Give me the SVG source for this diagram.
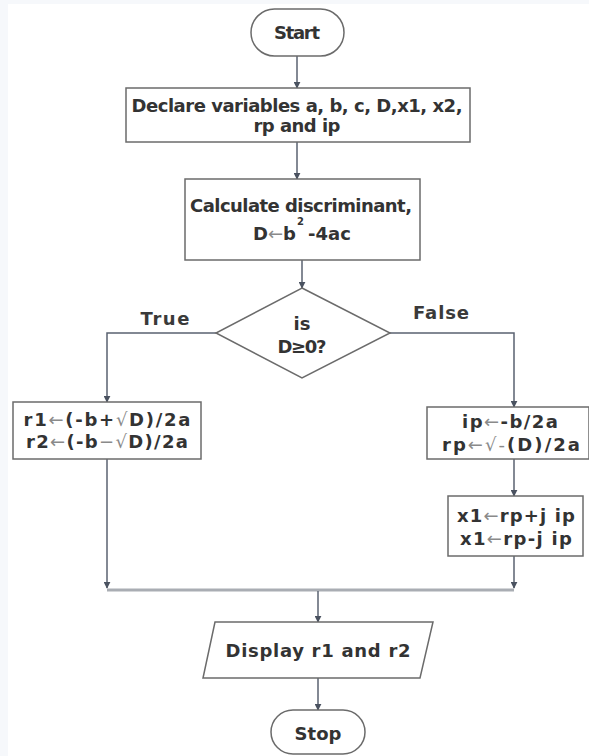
<svg xmlns="http://www.w3.org/2000/svg" width="589" height="756" viewBox="0 0 589 756">
<style>
.bg{fill:#f6f8fb}
.canvas{fill:#ffffff}
.box{fill:#ffffff;stroke:#6b6b6b;stroke-width:1.5}
.t{font-family:"DejaVu Sans",Verdana,sans-serif;font-weight:bold;font-size:18px;fill:#333333}
.lab{font-family:"DejaVu Sans",Verdana,sans-serif;font-weight:bold;font-size:18px;fill:#3a3a3a}
.ar{font-weight:normal;fill:#8a8a8a}
.conn{fill:none;stroke:#5a6270;stroke-width:1.5}
.merge{fill:none;stroke:#a9adb3;stroke-width:3}
</style>
<defs>
<marker id="ah" viewBox="0 0 10 10" refX="9" refY="5" markerWidth="7" markerHeight="7" markerUnits="userSpaceOnUse" orient="auto">
<path d="M0,0 L10,5 L0,10 z" fill="#4a5260"/>
</marker>
</defs>
<rect class="bg" x="0" y="0" width="589" height="756"/>
<rect class="canvas" x="8" y="4" width="581" height="752"/>

<g id="connectors">
<path class="conn" d="M297,56 L297,88" marker-end="url(#ah)"/>
<path class="conn" d="M297,142 L297,179" marker-end="url(#ah)"/>
<path class="conn" d="M302,260 L302,288" marker-end="url(#ah)"/>
<path class="conn" d="M216,333 L107,333 L107,402" marker-end="url(#ah)"/>
<path class="conn" d="M390,333 L514,333 L514,407" marker-end="url(#ah)"/>
<path class="conn" d="M514,459 L514,496" marker-end="url(#ah)"/>
<path class="conn" d="M107,459 L107,588" marker-end="url(#ah)"/>
<path class="conn" d="M514,556 L514,588" marker-end="url(#ah)"/>
<path class="merge" d="M107,590 L514,590"/>
<path class="conn" d="M318,591 L318,622" marker-end="url(#ah)"/>
<path class="conn" d="M318,678 L318,710" marker-end="url(#ah)"/>
<text class="lab" x="165" y="325" text-anchor="middle" textLength="49">True</text>
<text class="lab" x="441" y="319" text-anchor="middle" textLength="56">False</text>
</g>

<g id="start">
<rect class="box" x="251" y="9" width="93" height="47" rx="23.5"/>
<text class="t" x="297" y="39" text-anchor="middle" textLength="46">Start</text>
</g>

<g id="declare">
<rect class="box" x="126" y="88" width="344" height="54"/>
<text class="t" x="297" y="112" text-anchor="middle" textLength="331">Declare variables a, b, c, D,x1, x2,</text>
<text class="t" x="297" y="132" text-anchor="middle" textLength="87">rp and ip</text>
</g>

<g id="calc">
<rect class="box" x="185" y="179" width="235" height="81"/>
<text class="t" x="301" y="212" text-anchor="middle" textLength="222">Calculate discriminant,</text>
<text class="t" x="253" y="240">D<tspan class="ar">←</tspan>b</text>
<text class="t" x="297" y="225" style="font-size:10px">2</text>
<text class="t" x="308" y="240">-4ac</text>
</g>

<g id="decision">
<polygon class="box" points="302,288 390,333 302,378 216,333"/>
<text class="t" x="302" y="330" text-anchor="middle">is</text>
<text class="t" x="302" y="353" text-anchor="middle" textLength="49">D≥0?</text>
</g>

<g id="roots-real">
<rect class="box" x="13" y="402" width="188" height="57"/>
<text class="t" x="107" y="426" text-anchor="middle" textLength="167">r1<tspan class="ar">←</tspan>(-b+<tspan class="ar">√</tspan>D)/2a</text>
<text class="t" x="107" y="448" text-anchor="middle" textLength="162">r2<tspan class="ar">←</tspan>(-b<tspan class="ar">−√</tspan>D)/2a</text>
</g>

<g id="roots-complex">
<rect class="box" x="427" y="407" width="162" height="52"/>
<text class="t" x="510" y="428" text-anchor="middle" textLength="96">ip<tspan class="ar">←</tspan>-b/2a</text>
<text class="t" x="511" y="451" text-anchor="middle" textLength="138">rp<tspan class="ar">←√-</tspan>(D)/2a</text>
</g>

<g id="x-values">
<rect class="box" x="448" y="496" width="135" height="60"/>
<text class="t" x="516" y="522" text-anchor="middle" textLength="118">x1<tspan class="ar">←</tspan>rp+j ip</text>
<text class="t" x="516" y="545" text-anchor="middle" textLength="112">x1<tspan class="ar">←</tspan>rp-j ip</text>
</g>

<g id="display">
<polygon class="box" points="215,622 433,622 420,678 203,678"/>
<text class="t" x="318" y="657" text-anchor="middle" textLength="185">Display r1 and r2</text>
</g>

<g id="stop">
<rect class="box" x="271" y="710" width="94" height="44" rx="22"/>
<text class="t" x="318" y="740" text-anchor="middle" textLength="47">Stop</text>
</g>
</svg>
